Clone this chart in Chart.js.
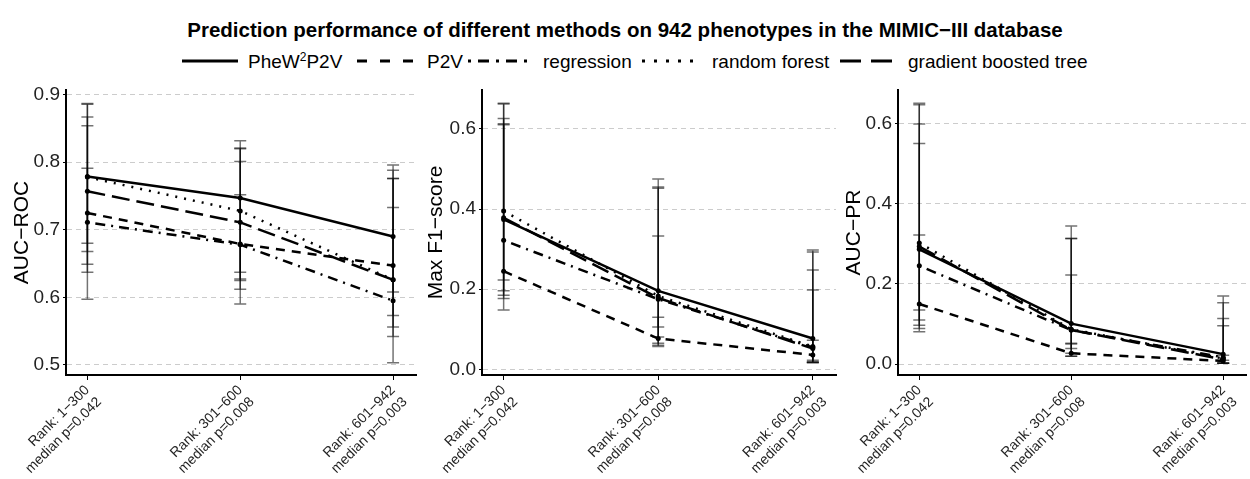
<!DOCTYPE html>
<html>
<head>
<meta charset="utf-8">
<script src="https://cdn.jsdelivr.net/npm/chart.js@4"></script>
<style>
  body { margin: 0; background: #fff; font-family: "Liberation Sans", Arial, sans-serif; }
  #wrap { position: relative; width: 1250px; height: 479px; overflow: hidden; }
  #title { position: absolute; left: 0; top: 18px; width: 1250px; text-align: center;
           font-weight: bold; font-size: 20.5px; line-height: 24px; color: #000; }
  .leg { position: absolute; top: 52px; font-size: 19px; line-height: 20px; white-space: nowrap; color: #000; }
  .leg sup { font-size: 12px; line-height: 0; }
  .key { position: absolute; top: 56px; }
  canvas { position: absolute; top: 80px; }
</style>
</head>
<body>
<div id="wrap">
  <div id="title">Prediction performance of different methods on 942 phenotypes in the MIMIC−III database</div>

  <svg class="key" style="left:182px" width="56" height="10"><line x1="0" y1="5" x2="56" y2="5" stroke="#000" stroke-width="3"/></svg>
  <span class="leg" style="left:248px">PheW<sup>2</sup>P2V</span>
  <svg class="key" style="left:357px" width="56" height="10"><line x1="0" y1="5" x2="56" y2="5" stroke="#000" stroke-width="3" stroke-dasharray="10 13"/></svg>
  <span class="leg" style="left:427px">P2V</span>
  <svg class="key" style="left:468px" width="62" height="10"><line x1="0" y1="5" x2="62" y2="5" stroke="#000" stroke-width="3" stroke-dasharray="3 7 11 7"/></svg>
  <span class="leg" style="left:543px">regression</span>
  <svg class="key" style="left:642px" width="52" height="10"><line x1="0" y1="5" x2="52" y2="5" stroke="#000" stroke-width="3" stroke-dasharray="3 9"/></svg>
  <span class="leg" style="left:712px">random forest</span>
  <svg class="key" style="left:840px" width="52" height="10"><line x1="0" y1="5" x2="52" y2="5" stroke="#000" stroke-width="3" stroke-dasharray="21 10"/></svg>
  <span class="leg" style="left:908px">gradient boosted tree</span>

  <canvas id="c1" width="420" height="399" style="left:0px"></canvas>
  <canvas id="c2" width="420" height="399" style="left:420px"></canvas>
  <canvas id="c3" width="410" height="399" style="left:840px"></canvas>
</div>
<script>
// categories (x tick labels, two lines each)
const categories = [
  ["Rank: 1−300", "median p=0.042"],
  ["Rank: 301−600", "median p=0.008"],
  ["Rank: 601−942", "median p=0.003"]
];
const methods = ["PheW²P2V", "P2V", "regression", "random forest", "gradient boosted tree"];

// AUC-ROC
const rocPheW = [0.779, 0.747, 0.690];
const rocP2V  = [0.725, 0.679, 0.647];
const rocReg  = [0.711, 0.678, 0.595];
const rocRF   = [0.778, 0.728, 0.626];
const rocGBT  = [0.757, 0.711, 0.626];
const rocHi = [[0.887, 0.832, 0.796], [0.854, 0.801, 0.788], [0.791, 0.752, 0.733], [0.886, 0.821, 0.776], [0.867, 0.820, 0.776]];
const rocLo = [[0.680, 0.637, 0.608], [0.637, 0.612, 0.573], [0.597, 0.590, 0.503], [0.668, 0.627, 0.542], [0.649, 0.625, 0.556]];
const rocTicks = [0.5, 0.6, 0.7, 0.8, 0.9];

// Max F1-score
const f1PheW = [0.374, 0.196, 0.077];
const f1P2V  = [0.245, 0.077, 0.036];
const f1Reg  = [0.322, 0.175, 0.055];
const f1RF   = [0.395, 0.183, 0.057];
const f1GBT  = [0.378, 0.178, 0.052];
const f1Hi = [[0.626, 0.475, 0.298], [0.610, 0.130, 0.073], [0.613, 0.333, 0.248], [0.664, 0.455, 0.293], [0.662, 0.452, 0.198]];
const f1Lo = [[0.185, 0.106, 0.023], [0.148, 0.057, 0.017], [0.177, 0.060, 0.017], [0.223, 0.081, 0.019], [0.196, 0.065, 0.017]];
const f1Ticks = [0.0, 0.2, 0.4, 0.6];

// AUC-PR
const prPheW = [0.286, 0.101, 0.025];
const prP2V  = [0.150, 0.027, 0.008];
const prReg  = [0.245, 0.085, 0.017];
const prRF   = [0.302, 0.087, 0.014];
const prGBT  = [0.293, 0.085, 0.012];
const prHi = [[0.598, 0.344, 0.170], [0.322, 0.050, 0.022], [0.550, 0.222, 0.153], [0.650, 0.313, 0.114], [0.646, 0.313, 0.096]];
const prLo = [[0.097, 0.052, 0.010], [0.081, 0.020, 0.002], [0.089, 0.020, 0.003], [0.135, 0.039, 0.002], [0.110, 0.027, 0.002]];
const prTicks = [0.0, 0.2, 0.4, 0.6];

const dashes = [[], [9, 7], [2, 6, 10, 6], [2, 7], [18, 7]];

Chart.defaults.font.family = '"Liberation Sans", Arial, sans-serif';
Chart.defaults.color = '#222';

// error bars drawn under the lines
const errorBars = {
  id: 'errorBars',
  beforeDatasetsDraw(chart, args, opts) {
    const ctx = chart.ctx, x = chart.scales.x, y = chart.scales.y;
    ctx.save();
    ctx.strokeStyle = 'rgba(0,0,0,0.55)';
    ctx.lineWidth = 1.5;
    opts.hi.forEach((row, m) => {
      row.forEach((hv, i) => {
        const px = x.getPixelForValue(i);
        const ph = y.getPixelForValue(hv);
        const pl = y.getPixelForValue(opts.lo[m][i]);
        ctx.beginPath();
        ctx.moveTo(px, ph); ctx.lineTo(px, pl);
        ctx.moveTo(px - 6, ph); ctx.lineTo(px + 6, ph);
        ctx.moveTo(px - 6, pl); ctx.lineTo(px + 6, pl);
        ctx.stroke();
      });
    });
    ctx.restore();
  }
};

function panel(id, series, hi, lo, yTitle, yMin, yMax, yTicks, yWidth, titlePad) {
  const datasets = series.map((vals, m) => ({
    label: methods[m],
    data: vals.map((v, i) => ({ x: i, y: v })),
    borderColor: '#000',
    borderWidth: 2.5,
    borderDash: dashes[m],
    pointRadius: 2.5,
    pointBackgroundColor: '#000',
    pointBorderWidth: 0,
    tension: 0
  }));
  return new Chart(document.getElementById(id), {
    type: 'line',
    data: { datasets },
    plugins: [errorBars],
    options: {
      responsive: false,
      animation: false,
      devicePixelRatio: 1,
      layout: { padding: { top: 10, right: 2, bottom: 4, left: 0 } },
      plugins: {
        legend: { display: false },
        tooltip: { enabled: false },
        errorBars: { hi, lo }
      },
      scales: {
        x: {
          type: 'linear',
          min: -0.14,
          max: 2.15,
          afterBuildTicks: s => { s.ticks = [0, 1, 2].map(v => ({ value: v })); },
          afterFit: s => { s.height = 100; s.paddingLeft = 0; s.paddingRight = 0; },
          border: { display: true, color: '#000', width: 2 },
          grid: { drawOnChartArea: false, tickLength: 5, tickColor: '#000', tickWidth: 1 },
          ticks: {
            autoSkip: false, minRotation: 45, maxRotation: 45, padding: 2,
            font: { size: 14 }, color: '#222',
            callback: v => categories[v]
          }
        },
        y: {
          min: yMin,
          max: yMax,
          afterBuildTicks: s => { s.ticks = yTicks.map(v => ({ value: v })); },
          afterFit: s => { s.width = yWidth; s.paddingTop = 0; s.paddingBottom = 0; },
          border: { display: true, color: '#000', width: 2, dash: [5, 4] },
          grid: { color: '#cccccc', lineWidth: 1, tickLength: 3, tickColor: '#000', tickWidth: 1 },
          ticks: { font: { size: 19 }, color: '#222', padding: 3, callback: v => v.toFixed(1) },
          title: { display: true, text: yTitle, font: { size: 21 }, color: '#000', padding: { top: titlePad, bottom: 0 } }
        }
      }
    }
  });
}

panel('c1', [rocPheW, rocP2V, rocReg, rocRF, rocGBT], rocHi, rocLo, 'AUC−ROC', 0.485, 0.907, rocTicks, 66, 10);
panel('c2', [f1PheW, f1P2V, f1Reg, f1RF, f1GBT], f1Hi, f1Lo, 'Max F1−score', -0.014, 0.697, f1Ticks, 62, 4);
panel('c3', [prPheW, prP2V, prReg, prRF, prGBT], prHi, prLo, 'AUC−PR', -0.027, 0.683, prTicks, 58, 2);
</script>
</body>
</html>
